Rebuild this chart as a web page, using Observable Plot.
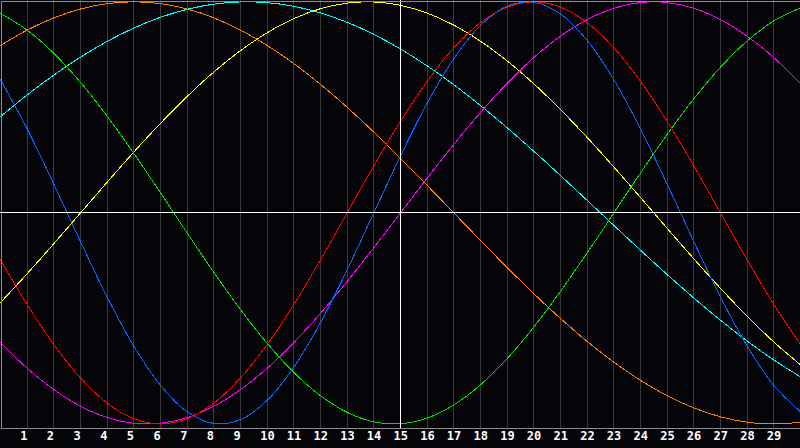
<!DOCTYPE html>
<html>
<head>
<meta charset="utf-8">
<script src="https://cdn.jsdelivr.net/npm/d3@7"></script>
<script src="https://cdn.jsdelivr.net/npm/@observablehq/plot@0.6"></script>
<style>
  html, body { margin: 0; padding: 0; background: #050408; }
  #chart svg { display: block; }
</style>
</head>
<body>
<div id="chart"></div>
<script>
// Days shown on the chart (x positions)
const days = [0,1,2,3,4,5,6,7,8,9,10,11,12,13,14,15,16,17,18,19,20,21,22,23,24,25,26,27,28,29,30];
// Tick labels along the bottom
const tickLabels = [1,2,3,4,5,6,7,8,9,10,11,12,13,14,15,16,17,18,19,20,21,22,23,24,25,26,27,28,29];
// Day grid lines (15 is drawn as the white "today" line)
const gridDays = [1,2,3,4,5,6,7,8,9,10,11,12,13,14,16,17,18,19,20,21,22,23,24,25,26,27,28,29];
const todayDay = [15];

// Cycle values, one per day 0..30 (range -1..1)
const physical = [0.6311,0.3984,0.1362,-0.1362,-0.3984,-0.6311,-0.8170,-0.9423,-0.9977,-0.9791,-0.8879,-0.7308,-0.5196,-0.2698,0,0.2698,0.5196,0.7308,0.8879,0.9791,0.9977,0.9423,0.8170,0.6311,0.3984,0.1362,-0.1362,-0.3984,-0.6311,-0.8170,-0.9423];
const emotional = [-0.2225,-0.4339,-0.6235,-0.7818,-0.9010,-0.9749,-1,-0.9749,-0.9010,-0.7818,-0.6235,-0.4339,-0.2225,0,0.2225,0.4339,0.6235,0.7818,0.9010,0.9749,1,0.9749,0.9010,0.7818,0.6235,0.4339,0.2225,0,-0.2225,-0.4339,-0.6235];
const intellectual = [0.9450,0.8660,0.7557,0.6182,0.4582,0.2817,0.0951,-0.0951,-0.2817,-0.4582,-0.6182,-0.7557,-0.8660,-0.9450,-0.9898,-0.9989,-0.9718,-0.9096,-0.8146,-0.6901,-0.5406,-0.3717,-0.1893,0,0.1893,0.3717,0.5406,0.6901,0.8146,0.9096,0.9718];
const intuition = [-0.6142,-0.7357,-0.8372,-0.9158,-0.9694,-0.9966,-0.9966,-0.9694,-0.9158,-0.8372,-0.7357,-0.6142,-0.4759,-0.3247,-0.1646,0,0.1646,0.3247,0.4759,0.6142,0.7357,0.8372,0.9158,0.9694,0.9966,0.9966,0.9694,0.9158,0.8372,0.7357,0.6142];
const aesthetic = [-0.4244,-0.2881,-0.1456,0,0.1456,0.2881,0.4244,0.5517,0.6673,0.7687,0.8536,0.9203,0.9675,0.9940,0.9993,0.9834,0.9464,0.8894,0.8133,0.7199,0.6113,0.4894,0.3572,0.2174,0.0730,-0.0730,-0.2174,-0.3572,-0.4894,-0.6113,-0.7199];
const awareness = [0.7934,0.8660,0.9239,0.9659,0.9914,1,0.9914,0.9659,0.9239,0.8660,0.7934,0.7071,0.6088,0.5,0.3827,0.2588,0.1305,0,-0.1305,-0.2588,-0.3827,-0.5,-0.6088,-0.7071,-0.7934,-0.8660,-0.9239,-0.9659,-0.9914,-1,-0.9914];
const spiritual = [0.4566,0.5586,0.6528,0.7378,0.8125,0.8757,0.9267,0.9646,0.9890,0.9996,0.9960,0.9786,0.9473,0.9028,0.8456,0.7765,0.6966,0.6068,0.5085,0.4031,0.2921,0.1769,0.0592,-0.0592,-0.1769,-0.2921,-0.4031,-0.5085,-0.6068,-0.6966,-0.7765];

const seriesNames = ["spiritual","awareness","aesthetic","intuition","intellectual","emotional","physical"];
const seriesColors = ["#00ffff","#ff8000","#ffff00","#ff00ff","#00e000","#ff0000","#0a64ff"];
const seriesValues = [spiritual, awareness, aesthetic, intuition, intellectual, emotional, physical];

const table = [];
seriesNames.forEach((name, s) => {
  days.forEach((d, i) => table.push({cycle: name, day: d, value: seriesValues[s][i]}));
});

const chart = Plot.plot({
  width: 800,
  height: 448,
  marginTop: 0,
  marginBottom: 20,
  marginLeft: 0,
  marginRight: 0,
  style: {background: "#050408", color: "#ffffff", shapeRendering: "crispEdges"},
  x: {domain: [0, 30], axis: null},
  y: {domain: [-1.0213, 1.0062], axis: null},
  color: {domain: seriesNames, range: seriesColors},
  marks: [
    Plot.ruleX(gridDays, {stroke: "#3a3a3a", strokeWidth: 1}),
    Plot.line(table, {x: "day", y: "value", z: "cycle", stroke: "cycle", strokeWidth: 1, curve: "catmull-rom"}),
    Plot.ruleY([0], {stroke: "#ffffff", strokeWidth: 1}),
    Plot.ruleX(todayDay, {stroke: "#ffffff", strokeWidth: 1}),
    Plot.frame({stroke: "#8c8c8c", inset: 0.5}),
    Plot.text(tickLabels, {
      x: d => d, text: d => String(d),
      frameAnchor: "bottom", dy: 11, dx: -7,
      textAnchor: "start",
      fill: "#ffffff", fontSize: 12, fontWeight: "bold",
      fontFamily: "DejaVu Sans Mono"
    })
  ]
});
document.getElementById("chart").appendChild(chart);
</script>
</body>
</html>
